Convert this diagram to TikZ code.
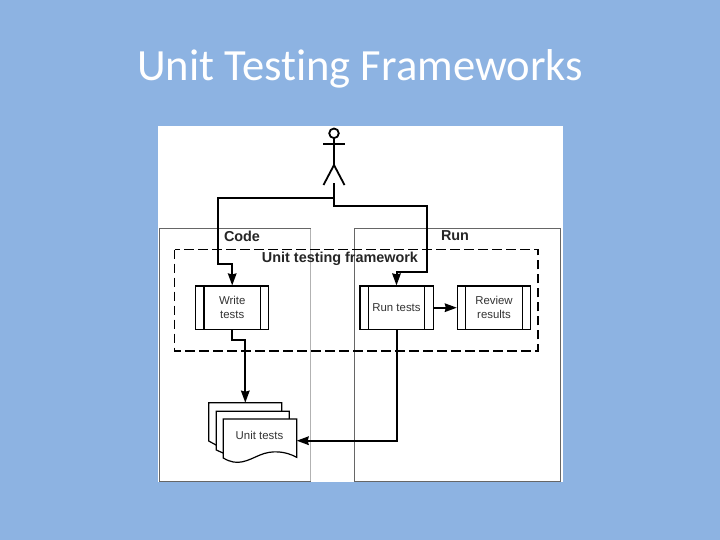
\documentclass[tikz,border=0pt]{standalone}
\usepackage{fontspec}
\setmainfont{Liberation Sans}
\newfontfamily\slidefont[Ligatures=NoCommon]{Carlito}
\usetikzlibrary{positioning, arrows.meta}
\definecolor{slideblue}{HTML}{8DB3E2}

\begin{document}
\begin{tikzpicture}[x=1pt, y=-1pt, >={Stealth[length=12pt, width=8.5pt, inset=1pt]},
  lane/.style={draw=black!60, line width=0.9pt},
  flow/.style={line width=2pt, line join=miter},
  proc/.style={draw, line width=1.2pt, minimum width=73.2pt, minimum height=43.3pt, inner sep=0pt,
    font=\fontsize{11.4}{13.6}\selectfont, align=center, text=black!80},
  lbl/.style={font=\fontsize{14.4}{16}\bfseries\selectfont, inner sep=0pt, text=black!85},
  page/.style={draw, fill=white, line width=1.2pt}]

  % Slide and white sheet
  \useasboundingbox (0,0) rectangle (720,540);
  \fill[slideblue] (0,0) rectangle (720,540);
  \fill[white] (158.3,126) rectangle (562.5,482);
  \node[white, font=\slidefont\fontsize{44.6}{50}\selectfont, inner sep=0pt] (title) at (360,69) {Unit Testing Frameworks};

  % Lanes
  \draw[lane, draw=black!30] (310.7,228.3) -- (310.7,481.7);
  \draw[lane] (310.7,481.7) -- (159.3,481.7) -- (159.3,228.3) -- (310.7,228.3);
  \draw[lane] (354.3,481.7) rectangle (560.7,228.3);
  \node[lbl] (code) at (242,236) {Code};
  \node[lbl] (runlane) at (455,235.5) {Run};

  % Framework frame
  \draw[line width=1.6pt, dash pattern=on 9.5pt off 4.5pt] (174.5,249.5) rectangle (537.7,350.8);
  \node[lbl] (framework) at (340,258.5) {Unit testing framework};

  % Process boxes
  \node[proc] (write) at (232.2,307.7) {Write\\tests};
  \node[proc] (run) at (396.5,307.7) {Run tests};
  \node[proc] (review) at (494,307.7) {Review\\results};
  \foreach \nd in {write, run, review} {
    \draw[line width=1.2pt] ([xshift=9pt]\nd.north west) -- ([xshift=9pt]\nd.south west);
    \draw[line width=1.2pt] ([xshift=-9pt]\nd.north east) -- ([xshift=-9pt]\nd.south east);
  }

  % Stick figure
  \draw[line width=1.8pt] (334,133.3) circle (4.8);
  \draw[line width=1.8pt] (334,138.1) -- (334,165);
  \draw[line width=1.8pt] (323,143.7) -- (345,143.7);
  \draw[line width=1.8pt] (323.5,185) -- (334,165) -- (344.5,185);
  \coordinate (actor) at (334,183.5);

  % Document stack
  \draw[page] (208.7,441) -- (208.7,402.7) -- (281.7,402.7) -- (281.7,430) -- (216,445) -- cycle;
  \draw[page] (216.3,450) -- (216.3,411.3) -- (289.3,411.3) -- (289.3,435) -- (223,453) -- cycle;
  \draw[page] (223.3,458) -- (223.3,419) -- (296.7,419) -- (296.7,457.3)
    .. controls (285,451) and (272,450) .. (260,455)
    .. controls (248,460) and (238,467) .. (223.3,458) -- cycle;
  \node[font=\fontsize{11.4}{13.6}\selectfont, inner sep=0pt, text=black!80] (tests) at (259.5,435.3) {Unit tests};
  \coordinate (stacktop) at (245.3,402.7);
  \coordinate (stackside) at (296.7,440.7);

  % Connectors
  \draw[flow, ->] (actor) |- (218.3,198.3) -- (218.3,264.3) -| (write.north);
  \draw[flow, ->] (actor) |- (426.7,206.3) -- (426.7,272.3) -| (run.north);
  \draw[flow, ->] (run.east) -- (review.west);
  \draw[flow, ->] (write.south) |- (245.3,340) -- (stacktop);
  \draw[flow, ->] (run.south) |- (stackside);

\end{tikzpicture}
\end{document}
